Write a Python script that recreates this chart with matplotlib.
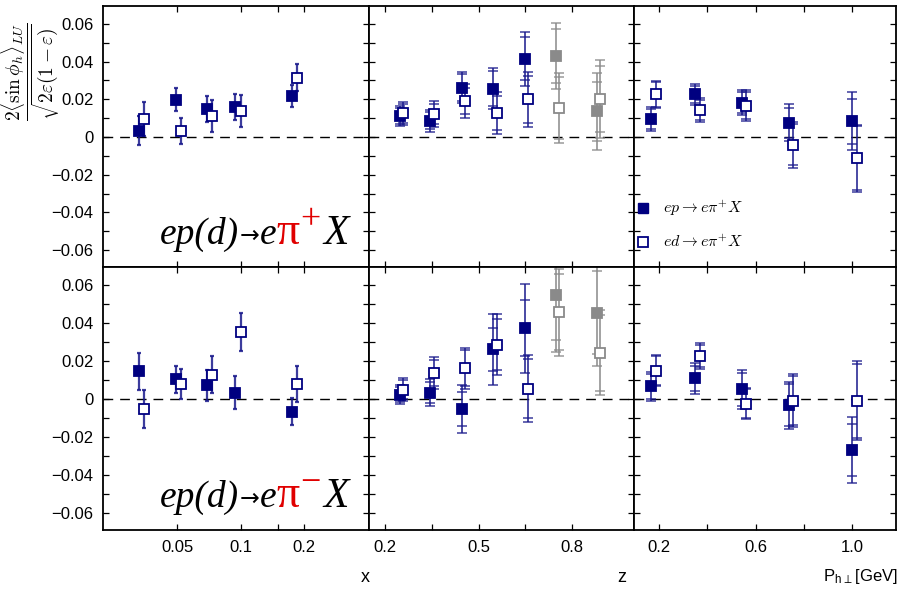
import numpy as np
import matplotlib.pyplot as plt
from matplotlib import transforms
from matplotlib.ticker import FixedLocator, NullFormatter, FuncFormatter

plt.rcParams['font.family'] = ['Liberation Sans', 'DejaVu Sans']
plt.rcParams['mathtext.fontset'] = 'cm'

# bin centres (ep and ed are slightly shifted in the original)
x_ep = [0.0331, 0.0495, 0.0694, 0.0942, 0.176]
x_ed = [0.0349, 0.0524, 0.0735, 0.100, 0.1845]
z_ep = [0.247, 0.346, 0.447, 0.547, 0.648, 0.748, 0.879]
z_ed = [0.259, 0.357, 0.457, 0.558, 0.658, 0.758, 0.888]
pt_ep = [0.167, 0.349, 0.542, 0.737, 0.998]
pt_ed = [0.186, 0.368, 0.559, 0.754, 1.017]

# pi+ : values, total errors, stat errors
pip_x_ep = [0.0032, 0.0198, 0.0147, 0.0159, 0.0219]
pip_x_ep_err = [0.0077, 0.0060, 0.0070, 0.0070, 0.0058]
pip_x_ed = [0.0095, 0.0032, 0.0113, 0.0136, 0.0315]
pip_x_ed_err = [0.0090, 0.0071, 0.0085, 0.0085, 0.0072]

pip_z_ep = [0.0111, 0.0085, 0.0262, 0.0256, 0.0415, 0.0431, 0.0136]
pip_z_ep_err = [0.0055, 0.0058, 0.0084, 0.0110, 0.0144, 0.0175, 0.0203]
pip_z_ep_stat = [0.0043, 0.0045, 0.0072, 0.0093, 0.0115, 0.0143, 0.0157]
pip_z_ed = [0.0126, 0.0122, 0.0191, 0.0127, 0.0200, 0.0154, 0.0202]
pip_z_ed_err = [0.0062, 0.0069, 0.0088, 0.0110, 0.0145, 0.0187, 0.0205]
pip_z_ed_stat = [0.0050, 0.0055, 0.0070, 0.0090, 0.0125, 0.0165, 0.0175]

pip_pt_ep = [0.0095, 0.0226, 0.0182, 0.0076, 0.0083]
pip_pt_ep_err = [0.0064, 0.0055, 0.0066, 0.0097, 0.0153]
pip_pt_ep_stat = [0.0055, 0.0045, 0.0055, 0.0080, 0.0120]
pip_pt_ed = [0.0226, 0.0143, 0.0166, -0.0041, -0.0113]
pip_pt_ed_err = [0.0072, 0.0063, 0.0082, 0.0122, 0.0179]
pip_pt_ed_stat = [0.0065, 0.0055, 0.0070, 0.0110, 0.0170]

# pi-
pim_x_ep = [0.0146, 0.0103, 0.0071, 0.0034, -0.0066]
pim_x_ep_err = [0.0098, 0.0070, 0.0082, 0.0086, 0.0073]
pim_x_ed = [-0.0053, 0.0078, 0.0128, 0.0354, 0.0080]
pim_x_ed_err = [0.0098, 0.0078, 0.0099, 0.0100, 0.0096]

pim_z_ep = [0.0023, 0.0034, -0.0052, 0.0261, 0.0372, 0.0549, 0.0455]
pim_z_ep_err = [0.0052, 0.0072, 0.0126, 0.0185, 0.0236, 0.0300, 0.0280]
pim_z_ep_stat = [0.0040, 0.0055, 0.0089, 0.0114, 0.0148, 0.0240, 0.0220]
pim_z_ed = [0.0048, 0.0137, 0.0162, 0.0286, 0.0055, 0.0457, 0.0244]
pim_z_ed_err = [0.0061, 0.0085, 0.0108, 0.0160, 0.0176, 0.0230, 0.0225]
pim_z_ed_stat = [0.0050, 0.0070, 0.0095, 0.0135, 0.0155, 0.0200, 0.0200]

pim_pt_ep = [0.0066, 0.0108, 0.0050, -0.0032, -0.0268]
pim_pt_ep_err = [0.0076, 0.0080, 0.0103, 0.0124, 0.0174]
pim_pt_ep_stat = [0.0065, 0.0065, 0.0085, 0.0110, 0.0135]
pim_pt_ed = [0.0149, 0.0226, -0.0025, -0.0009, -0.0009]
pim_pt_ed_err = [0.0081, 0.0069, 0.0082, 0.0139, 0.0207]
pim_pt_ed_stat = [0.0075, 0.0060, 0.0075, 0.0130, 0.0195]

NAVY = '#000080'
BAR = '#1a1a8c'
GRAY = '#8a8a8a'

W, H = 897, 589
fig = plt.figure(figsize=(W / 100, H / 100), dpi=100)


def px_axes(x0, x1, y0, y1):
    return fig.add_axes([x0 / W, 1 - y1 / H, (x1 - x0) / W, (y1 - y0) / H])


cols = [(103, 369), (369, 634), (634, 896)]
rows = [(6, 267), (267, 530)]


def draw_points(ax, xs, ys, tot, stat, filled, small_caps=False, gray_from=None):
    for i, (xv, yv) in enumerate(zip(xs, ys)):
        c = GRAY if (gray_from is not None and xv > gray_from) else NAVY
        bc = GRAY if c == GRAY else BAR
        if small_caps:
            ax.errorbar(xv, yv, yerr=tot[i], fmt='none', ecolor=bc, elinewidth=1.6,
                        capsize=1.5, capthick=1.6, alpha=0.85)
        else:
            ax.errorbar(xv, yv, yerr=tot[i], fmt='none', ecolor=bc, elinewidth=1.3,
                        capsize=3.6, capthick=1.1, alpha=0.85)
            ax.errorbar(xv, yv, yerr=stat[i], fmt='none', ecolor=bc, elinewidth=0,
                        capsize=3.6, capthick=1.1, alpha=0.85)
        ax.plot(xv, yv, 's', ms=6.8, mec=c, mew=1.3,
                mfc=c if filled else 'white', zorder=5)


def yfmt(v, pos):
    if abs(v) < 1e-9:
        return '0'
    return ('%.2f' % v).replace('-', '\u2212')


panels = [
    [(x_ep, pip_x_ep, pip_x_ep_err, None, x_ed, pip_x_ed, pip_x_ed_err, None),
     (z_ep, pip_z_ep, pip_z_ep_err, pip_z_ep_stat, z_ed, pip_z_ed, pip_z_ed_err, pip_z_ed_stat),
     (pt_ep, pip_pt_ep, pip_pt_ep_err, pip_pt_ep_stat, pt_ed, pip_pt_ed, pip_pt_ed_err, pip_pt_ed_stat)],
    [(x_ep, pim_x_ep, pim_x_ep_err, None, x_ed, pim_x_ed, pim_x_ed_err, None),
     (z_ep, pim_z_ep, pim_z_ep_err, pim_z_ep_stat, z_ed, pim_z_ed, pim_z_ed_err, pim_z_ed_stat),
     (pt_ep, pim_pt_ep, pim_pt_ep_err, pim_pt_ep_stat, pt_ed, pim_pt_ed, pim_pt_ed_err, pim_pt_ed_stat)],
]

axes = [[None] * 3 for _ in range(2)]
for r, (y0, y1) in enumerate(rows):
    for c, (x0, x1) in enumerate(cols):
        ax = px_axes(x0, x1, y0, y1)
        axes[r][c] = ax
        xe, ye, te, se, xd, yd, td, sd = panels[r][c]
        if c == 0:
            ax.set_xscale('log')
            ax.set_xlim(0.0223, 0.406)
            ax.xaxis.set_major_locator(FixedLocator([0.05, 0.1, 0.2]))
            ax.xaxis.set_minor_locator(FixedLocator([0.15]))
            ax.xaxis.set_major_formatter(FuncFormatter(lambda v, p: '%g' % v))
            draw_points(ax, xe, ye, te, se, True, small_caps=True)
            draw_points(ax, xd, yd, td, sd, False, small_caps=True)
        elif c == 1:
            ax.set_xlim(0.149, 0.998)
            ax.xaxis.set_major_locator(FixedLocator([0.2, 0.5, 0.8]))
            ax.xaxis.set_minor_locator(FixedLocator([0.35, 0.65]))
            ax.xaxis.set_major_formatter(FuncFormatter(lambda v, p: '%.1f' % v))
            draw_points(ax, xe, ye, te, se, True, gray_from=0.7)
            draw_points(ax, xd, yd, td, sd, False, gray_from=0.7)
        else:
            ax.set_xlim(0.096, 1.18)
            ax.xaxis.set_major_locator(FixedLocator([0.2, 0.6, 1.0]))
            ax.xaxis.set_minor_locator(FixedLocator([0.4, 0.8]))
            ax.xaxis.set_major_formatter(FuncFormatter(lambda v, p: '%.1f' % v))
            draw_points(ax, xe, ye, te, se, True)
            draw_points(ax, xd, yd, td, sd, False)
        ax.xaxis.set_minor_formatter(NullFormatter())
        ax.set_ylim(-0.069, 0.0695)
        ax.yaxis.set_major_locator(FixedLocator([-0.06, -0.04, -0.02, 0, 0.02, 0.04, 0.06]))
        ax.yaxis.set_minor_locator(FixedLocator([-0.05, -0.03, -0.01, 0.01, 0.03, 0.05]))
        ax.yaxis.set_major_formatter(FuncFormatter(yfmt))
        ax.axhline(0, color='black', lw=1.0, ls=(0, (7, 5)), zorder=1)
        ax.tick_params(which='both', direction='in', top=True, right=True,
                       length=4, width=0.9, labelsize=12, pad=7)
        if c != 0:
            ax.tick_params(labelleft=False)
        if r == 0:
            ax.tick_params(labelbottom=False)
        for s in ax.spines.values():
            s.set_linewidth(1.3)

# legend in top-right panel
axl = axes[0][2]
axl.plot([0.035], [0.225], 's', ms=6.8, mfc=NAVY, mec=NAVY, transform=axl.transAxes, clip_on=False)
axl.plot([0.035], [0.095], 's', ms=6.8, mfc='white', mec=NAVY, mew=1.3, transform=axl.transAxes, clip_on=False)
axl.text(0.11, 0.225, r'$ep\rightarrow e\pi^{+}X$', transform=axl.transAxes, va='center', fontsize=11.5)
axl.text(0.11, 0.095, r'$ed\rightarrow e\pi^{+}X$', transform=axl.transAxes, va='center', fontsize=11.5)

# big reaction labels
renderer = fig.canvas.get_renderer()


def reaction(ax, x, y, sign):
    serif = ['Liberation Serif', 'DejaVu Serif']
    big = dict(family=serif, style='italic', fontsize=27, color='black')
    red = '#e00000'
    # (text, style, gap before [pt], raise [pt])
    pieces = [
        ('ep(d)', big, 0, 0),
        ('\u2192', dict(family=['DejaVu Sans'], fontsize=17, color='black'), 0.2, 1),
        ('e', big, 0.5, 0),
        ('\u03c0', dict(family=serif, fontsize=33, color=red), 0.2, 0),
        (sign, dict(family=serif, fontsize=26, color=red), 0.6, 11),
        ('X', dict(big, fontsize=30), 1.5, 0),
    ]
    dx = 0.0
    for s, kw, gap, dy in pieces:
        dx += gap
        tr = transforms.offset_copy(ax.transAxes, fig=fig, x=dx, y=dy, units='points')
        t = ax.text(x, y, s, transform=tr, va='baseline', ha='left', **kw)
        dx += t.get_window_extent(renderer).width * 72 / fig.dpi


reaction(axes[0][0], 0.214, 0.088, '+')
reaction(axes[1][0], 0.214, 0.088, '\u2212')

# axis labels
fig.text(31 / W, 1 - 72 / H,
         r'$\dfrac{2\langle\sin\phi_h\rangle_{LU}}{\sqrt{2\varepsilon(1-\varepsilon)}}$',
         rotation=90, ha='center', va='center', fontsize=14)
fig.text(365 / W, 1 - 577 / H, 'x', ha='center', va='center', fontsize=13)
fig.text(622 / W, 1 - 577 / H, 'z', ha='center', va='center', fontsize=13)
fig.text(860 / W, 1 - 577 / H, r'P$_{\mathregular{h\perp}}$[GeV]', ha='center', va='center', fontsize=12)

fig.savefig('out.png', dpi=100)
